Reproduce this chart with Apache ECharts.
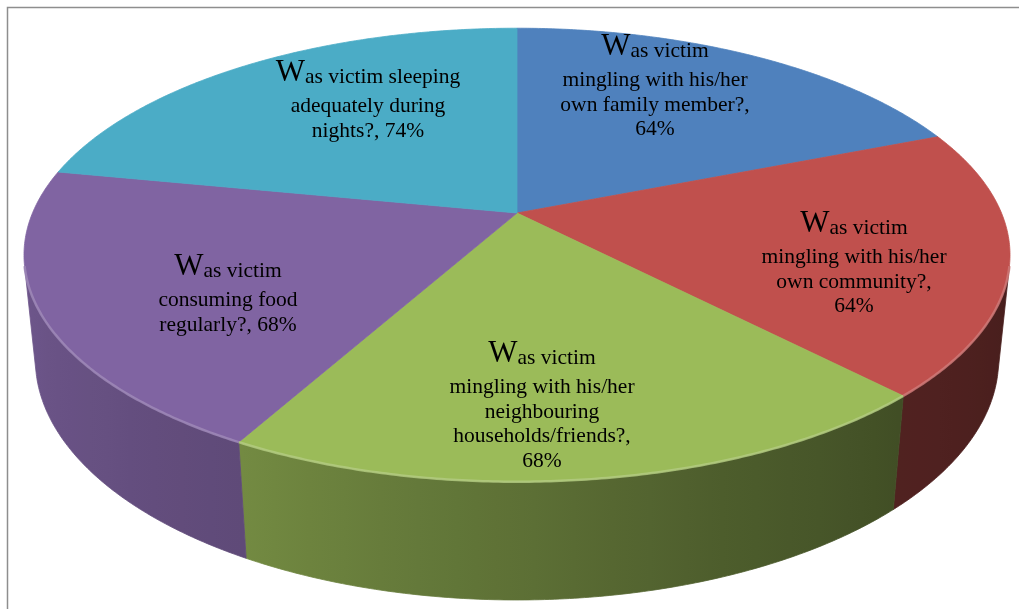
<!DOCTYPE html>
<html><head><meta charset="utf-8">
<script src="https://cdn.jsdelivr.net/npm/echarts@6/dist/echarts.min.js"></script>
<style>html,body{margin:0;padding:0;background:#fff}#c{width:1019px;height:609px}</style>
</head><body><div id="c"></div><script>
// ---- data ----
const categories = [
  'Was victim\nmingling with his/her\nown family member?',
  'Was victim\nmingling with his/her\nown community?',
  'Was victim\nmingling with his/her\nneighbouring\nhouseholds/friends?',
  'Was victim\nconsuming food\nregularly?',
  'Was victim sleeping\nadequately during\nnights?'
];
const values = [64, 64, 68, 68, 74];

// ---- style / layout ----
const colors = ['#4f81bd', '#c0504d', '#9bbb59', '#8064a2', '#4bacc6'];
const labelBreak = [true, true, true, false, false];
const labelPos = [[655, 32], [854, 209], [542, 339], [228, 252], [368, 58]];
const FONT = '"Liberation Serif","Times New Roman",serif';

const V = {cx: 517, cy: 213, k: 484.5, sin: 0.452, cos: 0.892, D: 4.82, h: 0.2434};
function proj(X, Z, Y) {
  const d = Z * V.cos + Y * V.sin;
  const v = Y * V.cos - Z * V.sin;
  const f = V.D / (V.D - d);
  return [V.cx + V.k * X * f, V.cy - V.k * v * f];
}
function rim(a, Y) { const r = a * Math.PI / 180; return proj(Math.sin(r), -Math.cos(r), Y); }
function arc(a0, a1, Y) {
  const n = Math.max(2, Math.ceil((a1 - a0) / 0.5));
  const pts = [];
  for (let j = 0; j <= n; j++) pts.push(rim(a0 + (a1 - a0) * j / n, Y));
  return pts;
}
const total = values.reduce((s, v) => s + v, 0);
const starts = []; let acc = 0;
values.forEach(v => { starts.push(acc / total * 360); acc += v; });
const zVis = 1 / (V.D * V.cos);
const visA0 = Math.acos(-zVis) * 180 / Math.PI, visA1 = 360 - visA0;

function hex(c) { return [1, 3, 5].map(i => parseInt(c.substr(i, 2), 16)); }
function rgb(a) { return 'rgb(' + a.map(x => Math.max(0, Math.min(255, Math.round(x)))).join(',') + ')'; }
const shadeTab = [[90, 0.36], [137, 0.42], [160, 0.5], [180, 0.6], [209, 0.74], [230, 0.8], [260, 0.86], [280, 0.88]];
function shade(a) {
  for (let j = 0; j < shadeTab.length - 1; j++) {
    const [x0, y0] = shadeTab[j], [x1, y1] = shadeTab[j + 1];
    if (a >= x0 && a <= x1) return y0 + (y1 - y0) * (a - x0) / (x1 - x0);
  }
  return a < shadeTab[0][0] ? shadeTab[0][1] : shadeTab[shadeTab.length - 1][1];
}
function lighten(c, t) { return rgb(hex(c).map(x => x + (255 - x) * t)); }

function labelText(i) {
  const txt = categories[i] + ',' + (labelBreak[i] ? '\n' : ' ') + values[i] + '%';
  const lines = txt.split('\n');
  return lines.map((l, j) => j === 0 ? '{w|' + l[0] + '}{f|' + l.slice(1) + '}'
    : (j === 1 ? '{s|' + l + '}' : '{t|' + l + '}')).join('\n');
}

function renderItem(params, api) {
  const i = params.dataIndex;
  const v = api.value(0);
  const a0 = starts[i], a1 = a0 + v / total * 360;
  const children = [];
  const w0 = Math.max(a0, visA0), w1 = Math.min(a1, visA1);
  if (w1 > w0) {
    const t = arc(w0, w1, 0), b = arc(w0, w1, -V.h).reverse();
    const xs = t.map(p => p[0]).concat(b.map(p => p[0]));
    const xmin = Math.min.apply(null, xs), xmax = Math.max.apply(null, xs);
    const base = hex(colors[i]);
    const stops = [];
    const n = Math.max(2, Math.ceil((w1 - w0) / 4));
    for (let j = 0; j <= n; j++) {
      const a = w0 + (w1 - w0) * j / n;
      const x = rim(a, -V.h / 2)[0];
      const s = shade(a);
      stops.push({offset: Math.max(0, Math.min(1, (x - xmin) / (xmax - xmin))), color: rgb(base.map(c => c * s))});
    }
    stops.sort((p, q) => p.offset - q.offset);
    const grad = {type: 'linear', x: xmin, y: 0, x2: xmax, y2: 0, global: true, colorStops: stops};
    children.push({type: 'polygon', z2: 1, shape: {points: t.concat(b)}, style: {fill: grad, stroke: grad, lineWidth: 0.8}});
    children.push({type: 'polyline', z2: 12, shape: {points: t}, style: {stroke: lighten(colors[i], 0.25), lineWidth: 2.5, fill: null, opacity: 0.8}});
  }
  const top = [[V.cx, V.cy]].concat(arc(a0, a1, 0));
  children.push({type: 'polygon', z2: 10, shape: {points: top}, style: {fill: colors[i], stroke: colors[i], lineWidth: 0.8}});
  const tok = (lh) => ({fontSize: 21.5, lineHeight: lh, fontFamily: FONT, verticalAlign: 'bottom', fill: '#000'});
  children.push({
    type: 'text', z2: 20,
    style: {
      text: labelText(i), x: labelPos[i][0], y: labelPos[i][1],
      align: 'center', verticalAlign: 'top', fill: '#000',
      fontFamily: FONT, fontSize: 21.5,
      rich: {
        w: {fontSize: 31, lineHeight: 30, fontFamily: FONT, verticalAlign: 'bottom', fill: '#000'},
        f: tok(24.5),
        s: tok(29.5),
        t: tok(24.5)
      }
    }
  });
  return {type: 'group', children: children};
}

const chart = echarts.init(document.getElementById('c'), null, {renderer: 'canvas'});
chart.setOption({
  animation: false,
  graphic: [{type: 'rect', z: -10, shape: {x: 7.5, y: 7.5, width: 1040, height: 640}, style: {fill: null, stroke: '#8e8e8e', lineWidth: 1.5}}],
  series: [{type: 'custom', coordinateSystem: 'none', silent: true, renderItem: renderItem, data: values.map(v => [v])}]
});
</script></body></html>
